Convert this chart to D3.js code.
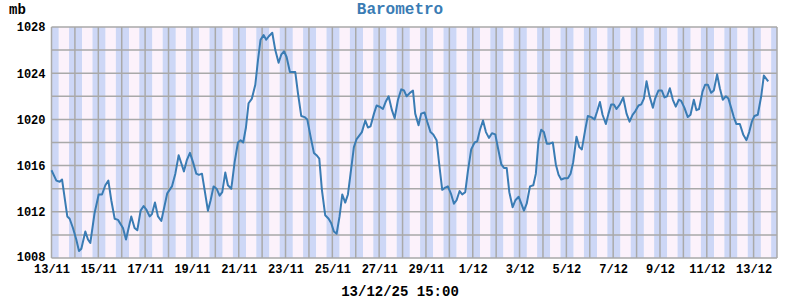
<!DOCTYPE html>
<html>
<head>
<meta charset="utf-8">
<script src="https://cdn.jsdelivr.net/npm/d3@7"></script>
<style>
    body { margin: 0; background: #fff; }
    text { font-family: "Liberation Mono", "DejaVu Sans Mono", monospace; font-weight: bold; }
</style>
</head>
<body>
<svg width="800" height="300"></svg>
<script>
    // hours since 13/11/25 00:00 and pressure in mb
    var hours = [
        0, 5.0, 8.4, 10.8, 16.2, 18.6, 22.0, 25.4, 28.2, 30.6, 34.7, 37.4, 39.8, 44.2, 48.4, 51.8, 55.2, 58.3,
        61.3, 64.8, 68.2, 73.3, 76.4, 81.8, 85.2, 88.0, 91.4, 94.5, 97.2, 100.6, 103.0, 106.1, 109.2, 112.6, 118.7,
        123.5, 127.0, 130.4, 133.1, 135.8, 138.9, 142.0, 145.1, 148.5, 151.2, 154.3, 157.0, 160.4, 163.2, 166.2,
        169.3, 172.4, 175.1, 178.2, 180.9, 184.4, 187.8, 191.2, 193.9, 196.6, 199.4, 202.1, 205.5, 209.0, 211.7,
        214.4, 217.5, 220.2, 222.9, 226.4, 229.5, 232.9, 235.6, 238.4, 241.1, 244.5, 248.6,
        250.0, 252.7, 256.1, 259.5, 262.3, 265.7, 269.1, 271.8, 274.6, 277.3, 280.7, 284.2, 286.9, 289.6, 292.4,
        295.4, 298.2, 301.2, 304.0, 306.7, 310.1, 312.9, 315.6, 318.3, 321.8, 324.5, 327.2, 330.7, 333.4, 336.5,
        339.9, 342.6, 345.7, 349.1, 351.9, 355.3, 358.7, 361.5, 364.2, 367.6, 370.7,
        373.0, 376.4, 379.1, 382.6, 385.3, 388.7, 391.5, 394.9, 397.9, 400.7, 403.8, 406.5, 409.9, 412.7, 415.4,
        418.5, 421.2, 424.3, 427.0, 430.4, 433.9, 436.6, 439.4, 442.5, 445.5, 448.6, 451.7, 455.1, 457.9, 461.3,
        464.0, 466.8, 469.5, 472.9, 475.7, 479.1, 481.8, 484.5, 487.3, 490.7, 494.1,
        496.7, 499.4, 502.2, 504.9, 508.0, 511.1, 514.1, 517.2, 520.0, 522.7, 526.1, 529.5, 532.3, 535.0, 538.4,
        541.2, 543.9, 547.3, 550.0, 553.5, 556.9, 559.6, 562.4, 565.1, 568.5, 571.2, 574.0, 576.7, 579.4, 582.9,
        586.3, 589.7, 592.8, 595.9, 598.6, 602.0, 604.8, 607.5, 610.2, 613.0, 616.7,
        619.0, 622.4, 625.9, 628.6, 631.3, 634.1, 637.2, 640.2, 643.3, 645.7, 649.1, 652.5, 655.3, 658.7, 661.4,
        664.1, 667.6, 670.3, 673.1, 676.5, 679.2, 682.6, 685.4, 688.4, 691.5, 694.2, 697.0, 699.7, 702.4, 705.9,
        709.3, 712.7, 715.5, 718.2, 720.9, 724.3, 727.8, 730.5, 735.0
    ];
    var pressure = [
        1015.6, 1014.7, 1014.6, 1014.8, 1011.6, 1011.4, 1010.6, 1009.6, 1008.6, 1008.8, 1010.3, 1009.6, 1009.3,
        1011.9, 1013.5, 1013.5, 1014.3, 1014.7, 1013.0, 1011.4, 1011.3, 1010.6, 1009.6, 1011.6, 1010.6, 1010.4,
        1012.1, 1012.5, 1012.2, 1011.6, 1011.8, 1012.8, 1011.6, 1011.2, 1013.6,
        1014.2, 1015.3, 1016.9, 1016.2, 1015.5, 1016.5, 1017.1, 1016.3, 1015.3, 1015.2, 1015.3, 1013.9, 1012.1,
        1013.0, 1014.2, 1014.0, 1013.4, 1013.7, 1015.4, 1014.3, 1014.0, 1016.3, 1018.0, 1018.2, 1018.0, 1019.3,
        1021.4, 1021.8, 1023.0, 1025.1, 1026.9, 1027.3, 1026.9, 1027.2, 1027.5, 1026.0, 1024.9, 1025.6, 1025.9,
        1025.4, 1024.1, 1024.1,
        1024.1, 1022.3, 1020.3, 1020.2, 1020.0, 1018.5, 1017.1, 1016.9, 1016.6, 1013.9, 1011.7, 1011.4, 1011.0,
        1010.3, 1010.1, 1011.6, 1013.5, 1012.8, 1013.5, 1015.3, 1017.6, 1018.3, 1018.6, 1018.9, 1019.9, 1019.3,
        1019.4, 1020.5, 1021.2, 1021.1, 1020.9, 1021.5, 1022.0, 1020.8, 1020.1, 1021.7, 1022.6, 1022.5, 1022.0,
        1022.3, 1022.5,
        1020.5, 1019.5, 1020.5, 1020.6, 1019.8, 1018.9, 1018.7, 1018.2, 1015.9, 1013.9, 1014.1, 1014.2, 1013.5,
        1012.7, 1013.0, 1013.8, 1013.5, 1013.7, 1015.5, 1017.4, 1018.0, 1018.1, 1019.1, 1019.9, 1018.9, 1018.4,
        1018.8, 1018.7, 1017.5, 1016.1, 1015.8, 1015.8, 1013.7, 1012.4, 1013.0, 1013.3, 1012.7, 1012.1, 1012.7,
        1014.2, 1014.3,
        1015.3, 1018.1, 1019.1, 1018.9, 1017.9, 1017.9, 1018.0, 1016.1, 1015.2, 1014.8, 1014.9, 1014.9, 1015.3,
        1016.3, 1018.5, 1017.6, 1017.4, 1019.1, 1020.3, 1020.2, 1020.0, 1020.7, 1021.5, 1020.4, 1019.6, 1020.5,
        1021.3, 1021.3, 1020.9, 1021.3, 1021.9, 1020.5, 1019.8, 1020.4, 1020.7, 1021.2, 1021.3, 1021.8, 1023.3,
        1022.1, 1021.0,
        1021.8, 1022.5, 1022.5, 1021.9, 1022.0, 1022.7, 1021.7, 1021.1, 1021.7, 1021.6, 1021.0, 1020.2, 1020.4,
        1021.7, 1020.8, 1020.9, 1022.4, 1023.0, 1023.0, 1022.3, 1022.5, 1023.9, 1022.7, 1021.7, 1022.0, 1021.8,
        1021.0, 1020.2, 1019.6, 1019.6, 1018.7, 1018.2, 1018.9, 1019.8, 1020.3, 1020.4, 1022.0, 1023.8, 1023.3
    ];
    var yLabels = [1008, 1012, 1016, 1020, 1024, 1028];
    var yGridLines = [1008, 1010, 1012, 1014, 1016, 1018, 1020, 1022, 1024, 1026, 1028];
    var startTime = Date.UTC(2025, 10, 13);
    var endTime = Date.UTC(2025, 11, 14);
    var lastReading = "13/12/25 15:00";

    var svg = d3.select("svg"),
        margin = {top: 27, right: 23, bottom: 42, left: 51.5},
        width = +svg.attr("width") - margin.left - margin.right,
        height = +svg.attr("height") - margin.top - margin.bottom,
        g = svg.append("g").attr("transform", "translate(" + margin.left + "," + margin.top + ")");

    var data = hours.map(function (h, i) {
        return {date: new Date(startTime + h * 3600e3), mb: pressure[i]};
    });

    var x = d3.scaleUtc()
        .domain([new Date(startTime), new Date(endTime)])
        .range([0, width]);

    var y = d3.scaleLinear()
        .domain([1008, 1028])
        .range([height, 0]);

    // day / night bands
    var days = d3.utcDay.range(new Date(startTime), new Date(endTime));
    days.forEach(function (d) {
        var t = d.getTime();
        var dawn = new Date(t + 7.5 * 3600e3),
            dusk = new Date(t + 18 * 3600e3),
            next = new Date(t + 24 * 3600e3);
        g.append("rect").attr("x", x(d)).attr("y", 0)
            .attr("width", x(dawn) - x(d)).attr("height", height).attr("fill", "#cdd7f6");
        g.append("rect").attr("x", x(dawn)).attr("y", 0)
            .attr("width", x(dusk) - x(dawn)).attr("height", height).attr("fill", "#fcf2fb");
        g.append("rect").attr("x", x(dusk)).attr("y", 0)
            .attr("width", x(next) - x(dusk)).attr("height", height).attr("fill", "#cdd7f6");
    });

    // grid
    g.selectAll(".vgrid")
        .data(days.concat([new Date(endTime)]))
        .enter().append("line")
        .attr("x1", function (d) { return x(d); })
        .attr("x2", function (d) { return x(d); })
        .attr("y1", 0).attr("y2", height)
        .attr("stroke", "#a9a9a9").attr("stroke-width", 1.5);

    g.selectAll(".hgrid")
        .data(yGridLines)
        .enter().append("line")
        .attr("x1", 0).attr("x2", width)
        .attr("y1", function (d) { return y(d); })
        .attr("y2", function (d) { return y(d); })
        .attr("stroke", "#a9a9a9").attr("stroke-width", 1.5);

    // axes labels
    var xAxis = g.append("g")
        .attr("transform", "translate(0," + height + ")")
        .call(d3.axisBottom(x).ticks(d3.utcDay.every(2)).tickFormat(d3.utcFormat("%-d/%m")).tickSize(0).tickPadding(6));
    xAxis.select(".domain").remove();
    xAxis.selectAll("text").attr("font-size", 12).attr("fill", "#000")
        .style("font-family", "'Liberation Mono', monospace").style("font-weight", "bold");

    var yAxis = g.append("g")
        .call(d3.axisLeft(y).tickValues(yLabels).tickFormat(d3.format("d")).tickSize(0).tickPadding(6));
    yAxis.select(".domain").remove();
    yAxis.selectAll("text").attr("font-size", 12).attr("fill", "#000")
        .style("font-family", "'Liberation Mono', monospace").style("font-weight", "bold");
    yAxis.selectAll(".tick").filter(function (d) { return d === 1008; })
        .select("text").attr("dy", "0.2em");

    var line = d3.line()
        .x(function (d) { return x(d.date); })
        .y(function (d) { return y(d.mb); });

    g.append("path")
        .datum(data)
        .attr("fill", "none")
        .attr("stroke", "#3a7cb4")
        .attr("stroke-width", 2)
        .attr("stroke-linejoin", "round")
        .attr("d", line);

    svg.append("text")
        .attr("x", 400).attr("y", 14)
        .attr("text-anchor", "middle")
        .attr("font-size", 16)
        .attr("fill", "#3a7cb4")
        .text("Barometro");

    svg.append("text")
        .attr("x", 9).attr("y", 14)
        .attr("font-size", 14)
        .text("mb");

    svg.append("text")
        .attr("x", 400).attr("y", 296)
        .attr("text-anchor", "middle")
        .attr("font-size", 14)
        .text(lastReading);
</script>
</body>
</html>
